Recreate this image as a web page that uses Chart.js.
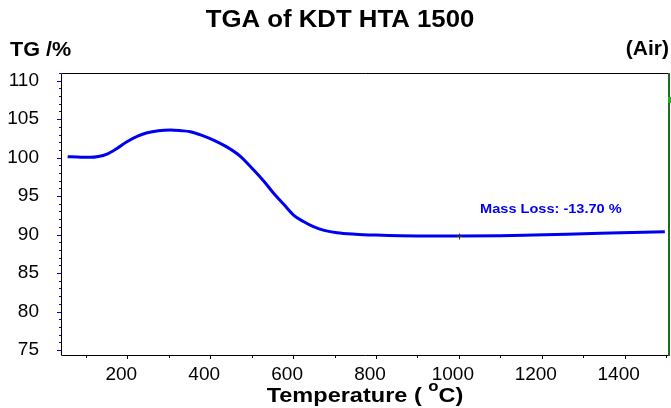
<!DOCTYPE html>
<html>
<head>
<meta charset="utf-8">
<script src="https://cdn.jsdelivr.net/npm/chart.js@4"></script>
<style>
    html, body { margin: 0; padding: 0; background: #fff; }
    canvas { display: block; }
</style>
</head>
<body>
<canvas id="tgaChart" width="671" height="408"></canvas>
<script>
// TG curve: temperature (°C) and mass (%)
const temps = [56, 80, 111, 130, 151, 175, 199, 225, 248, 275, 304, 330, 352, 380, 408, 440, 472, 505, 530, 553, 578, 601, 625, 649, 675, 706, 750, 800, 858, 900, 1000, 1100, 1180, 1260, 1341, 1420, 1497];
const tg = [100.12, 100.08, 100.04, 100.15, 100.47, 101.2, 102.07, 102.8, 103.24, 103.5, 103.59, 103.5, 103.37, 102.9, 102.29, 101.4, 100.21, 98.39, 96.9, 95.37, 93.9, 92.54, 91.7, 91.02, 90.55, 90.24, 90.05, 89.93, 89.84, 89.82, 89.82, 89.86, 89.95, 90.05, 90.17, 90.27, 90.37];

const xTicks = [200, 400, 600, 800, 1000, 1200, 1400];
const yTicks = [75, 80, 85, 90, 95, 100, 105, 110];

// cross marker on the curve and the mass loss note
const markerPoint = [1000, 89.82];
const massLossText = 'Mass Loss: -13.70 %';
const massLossAt = [1222, 93.3];

const fontFamily = 'Arial, "Liberation Sans", sans-serif';
const blue = 'rgb(0, 0, 240)';

// text in the original is a little wider than Arial, so stretch it
function wideText(ctx, text, x, y, font, color, align, sx) {
    ctx.save();
    ctx.font = font;
    ctx.fillStyle = color;
    ctx.textBaseline = 'middle';
    ctx.textAlign = 'left';
    const w = ctx.measureText(text).width * sx;
    const left = align === 'center' ? x - w / 2 : (align === 'right' ? x - w : x);
    ctx.translate(left, y);
    ctx.scale(sx, 1);
    ctx.fillText(text, 0, 0);
    ctx.restore();
    return w;
}

const decorations = {
    id: 'decorations',
    afterDraw(chart) {
        const ctx = chart.ctx;
        const a = chart.chartArea;
        const xs = chart.scales.x;
        const ys = chart.scales.y;

        ctx.save();
        // frame: black on three sides, green on the right
        ctx.lineWidth = 1;
        ctx.strokeStyle = '#000';
        ctx.beginPath();
        ctx.moveTo(a.right, a.top + 0.5);
        ctx.lineTo(a.left + 0.5, a.top + 0.5);
        ctx.lineTo(a.left + 0.5, a.bottom + 0.5);
        ctx.lineTo(a.right, a.bottom + 0.5);
        ctx.stroke();
        ctx.strokeStyle = '#1f6b1f';
        ctx.lineWidth = 2;
        ctx.beginPath();
        ctx.moveTo(a.right, a.top);
        ctx.lineTo(a.right, a.bottom + 1);
        ctx.stroke();
        ctx.fillStyle = '#22b022';
        ctx.fillRect(a.right - 1, ys.getPixelForValue(107.9), 3, 6);

        // y ticks, blue, outside the left edge
        ctx.strokeStyle = blue;
        ctx.lineWidth = 1;
        for (let v = 75; v <= 111; v++) {
            const py = Math.round(ys.getPixelForValue(v)) + 0.5;
            const len = v % 5 === 0 ? 4 : 2;
            ctx.beginPath();
            ctx.moveTo(a.left - len, py);
            ctx.lineTo(a.left, py);
            ctx.stroke();
        }
        // x ticks, black, below the bottom edge
        ctx.strokeStyle = '#000';
        for (let t = 100; t <= 1500; t += 100) {
            const px = Math.round(xs.getPixelForValue(t)) + 0.5;
            const len = t % 200 === 0 ? 3 : 2;
            ctx.beginPath();
            ctx.moveTo(px, a.bottom + 1);
            ctx.lineTo(px, a.bottom + 1 + len);
            ctx.stroke();
        }

        // cross marker
        const mx = Math.round(xs.getPixelForValue(markerPoint[0])) + 0.5;
        const my = Math.round(ys.getPixelForValue(markerPoint[1])) + 0.5;
        ctx.strokeStyle = '#333';
        ctx.beginPath();
        ctx.moveTo(mx - 3, my);
        ctx.lineTo(mx + 3, my);
        ctx.moveTo(mx, my - 3);
        ctx.lineTo(mx, my + 3);
        ctx.stroke();
        ctx.restore();

        // mass loss note
        wideText(ctx, massLossText, xs.getPixelForValue(massLossAt[0]), ys.getPixelForValue(massLossAt[1]),
            'bold 13px ' + fontFamily, blue, 'center', 1.12);

        // titles
        wideText(ctx, 'TGA of KDT HTA 1500', 340, 21, 'bold 23px ' + fontFamily, '#000', 'center', 1.12);
        wideText(ctx, 'TG /%', 10, 50, 'bold 20px ' + fontFamily, '#000', 'left', 1.08);
        wideText(ctx, '(Air)', 669, 49, 'bold 20px ' + fontFamily, '#000', 'right', 1.05);

        // x axis title with superscript o
        const mainFont = 'bold 21px ' + fontFamily;
        const supFont = 'bold 15px ' + fontFamily;
        const sx = 1.12;
        ctx.save();
        ctx.font = mainFont;
        const w1 = ctx.measureText('Temperature ( ').width * sx;
        const w3 = ctx.measureText('C)').width * sx;
        ctx.font = supFont;
        const w2 = ctx.measureText('o').width * sx;
        ctx.restore();
        const total = w1 + w2 + w3;
        let tx = (a.left + a.right) / 2 - total / 2;
        const ty = 396;
        wideText(ctx, 'Temperature ( ', tx, ty, mainFont, '#000', 'left', sx);
        tx += w1;
        wideText(ctx, 'o', tx, ty - 9, supFont, '#000', 'left', sx);
        tx += w2;
        wideText(ctx, 'C)', tx, ty, mainFont, '#000', 'left', sx);
    }
};

const points = temps.map((t, i) => ({ x: t, y: tg[i] }));

const ctx = document.getElementById('tgaChart').getContext('2d');
window.tgaChart = new Chart(ctx, {
    type: 'line',
    data: {
        datasets: [{
            label: 'TG',
            data: points,
            borderColor: blue,
            borderWidth: 3,
            pointRadius: 0,
            fill: false,
            cubicInterpolationMode: 'monotone'
        }]
    },
    options: {
        responsive: false,
        animation: false,
        devicePixelRatio: 1,
        layout: {
            padding: { top: 73, right: 2, left: 0, bottom: 0 }
        },
        plugins: {
            legend: { display: false },
            title: { display: false },
            tooltip: { enabled: false }
        },
        scales: {
            x: {
                type: 'linear',
                min: 40,
                max: 1507,
                grid: { display: false, drawTicks: false },
                border: { display: false },
                afterBuildTicks: function(scale) {
                    scale.ticks = xTicks.map(v => ({ value: v }));
                },
                afterFit: function(scale) {
                    scale.height = 53;
                },
                ticks: {
                    color: '#000',
                    padding: 8,
                    labelOffset: -6,
                    maxRotation: 0,
                    autoSkip: false,
                    font: { family: fontFamily, size: 19 },
                    callback: v => String(v)
                }
            },
            y: {
                type: 'linear',
                min: 74.35,
                max: 111,
                grid: { display: false, drawTicks: false },
                border: { display: false },
                afterBuildTicks: function(scale) {
                    scale.ticks = yTicks.map(v => ({ value: v }));
                },
                afterFit: function(scale) {
                    scale.width = 61;
                },
                ticks: {
                    color: '#000',
                    padding: 22,
                    autoSkip: false,
                    font: { family: fontFamily, size: 19 },
                    callback: v => String(v)
                }
            }
        }
    },
    plugins: [decorations]
});
</script>
</body>
</html>
